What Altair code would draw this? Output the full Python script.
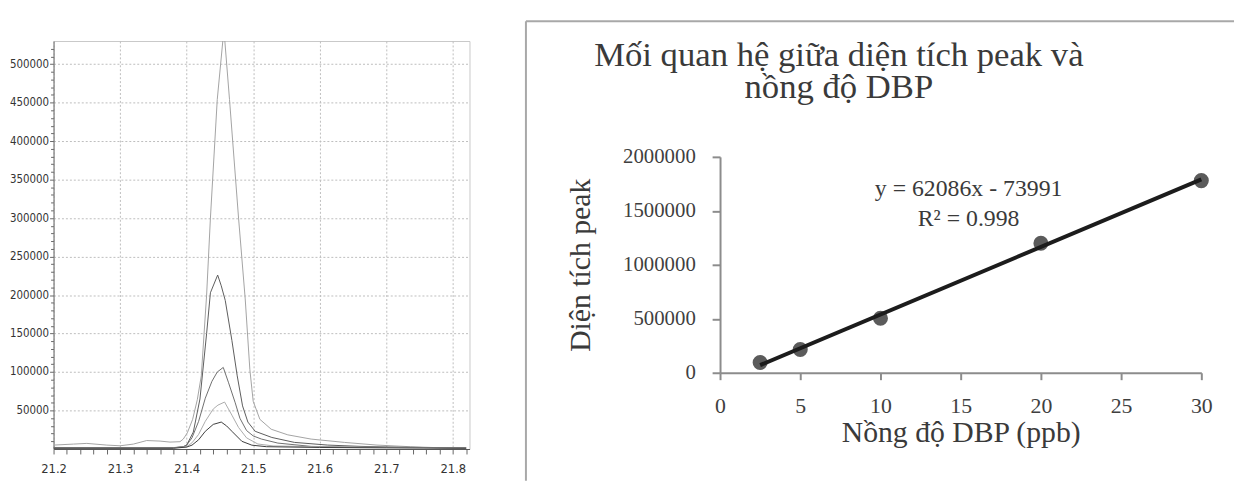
import altair as alt
import pandas as pd

# ---------------- Left panel: chromatogram (5 overlaid traces) ----------------
series_names = ["2.5 ppb", "5 ppb", "10 ppb", "20 ppb", "30 ppb"]
series_grays = ["#3d3d3d", "#ababab", "#6e6e6e", "#5c5c5c", "#a3a3a3"]

time_30 = [21.20, 21.23, 21.25, 21.28, 21.30, 21.32, 21.34, 21.36, 21.375, 21.39,
           21.395, 21.401, 21.409, 21.416, 21.422, 21.43, 21.4357, 21.446, 21.456,
           21.4644, 21.478, 21.488, 21.495, 21.50, 21.51, 21.527, 21.552, 21.587,
           21.637, 21.686, 21.736, 21.785, 21.82]
resp_30 = [5100, 6400, 7300, 5100, 4200, 6400, 11000, 10300, 9000, 9500,
           13000, 21000, 38600, 64000, 95000, 200000, 300000, 454000, 545000,
           454000, 300000, 195000, 103000, 62000, 38600, 25700, 18400, 12900,
           8600, 5100, 3000, 1500, 1200]

time_20 = [21.20, 21.30, 21.38, 21.395, 21.40, 21.41, 21.42, 21.43, 21.4357, 21.4466,
           21.452, 21.458, 21.468, 21.476, 21.484, 21.492, 21.503, 21.528, 21.562,
           21.612, 21.662, 21.72, 21.82]
resp_20 = [2000, 1800, 1800, 3000, 5000, 22000, 65000, 150000, 203000, 226000,
           212000, 193000, 141000, 95000, 56000, 35000, 23000, 15000, 8600,
           5100, 3400, 2200, 1500]

time_10 = [21.20, 21.30, 21.38, 21.395, 21.40, 21.408, 21.418, 21.428, 21.438, 21.446,
           21.455, 21.463, 21.473, 21.48, 21.49, 21.50, 21.5125, 21.537, 21.587,
           21.65, 21.75, 21.82]
resp_10 = [1500, 1500, 1500, 3000, 5000, 14500, 36000, 66000, 88000, 100000,
           106000, 86000, 60000, 40000, 24000, 17000, 12900, 7700, 3400,
           2500, 2000, 1500]

time_5 = [21.20, 21.38, 21.40, 21.408, 21.418, 21.428, 21.44, 21.447, 21.457, 21.468,
          21.478, 21.49, 21.507, 21.53, 21.60, 21.70, 21.82]
resp_5 = [1200, 1200, 3000, 8000, 19000, 36000, 52000, 57000, 61000, 44000,
          28000, 14500, 6500, 4000, 3000, 2000, 1200]

time_2_5 = [21.20, 21.38, 21.40, 21.408, 21.418, 21.428, 21.44, 21.452, 21.46, 21.468,
            21.483, 21.498, 21.52, 21.60, 21.70, 21.82]
resp_2_5 = [1000, 1000, 2500, 5000, 12000, 23000, 32000, 35000, 30000, 23000,
            10000, 5000, 3000, 2000, 1500, 1000]

x_tick_values = [round(21.2 + 0.02 * i, 2) for i in range(32)]
y_tick_values = [10000 * i for i in range(1, 53)]

# ---------------- Right panel: calibration curve ----------------
conc_ppb = [2.5, 5, 10, 20, 30]
peak_area = [95000, 215000, 505000, 1200000, 1780000]
x_ticks_right = [0, 5, 10, 15, 20, 25, 30]
y_ticks_right = [0, 500000, 1000000, 1500000, 2000000]
title_lines = ["Mối quan hệ giữa diện tích peak và", "nồng độ DBP"]
equation_lines = ["y = 62086x - 73991", "R² = 0.998"]

rows = []
for name, ts, vs in [("30 ppb", time_30, resp_30), ("20 ppb", time_20, resp_20),
                     ("10 ppb", time_10, resp_10), ("5 ppb", time_5, resp_5),
                     ("2.5 ppb", time_2_5, resp_2_5)]:
    for t, v in zip(ts, vs):
        rows.append({"series": name, "time": t, "response": v})
chrom = pd.DataFrame(rows)
calib = pd.DataFrame({"conc": conc_ppb, "area": peak_area})
one_row = pd.DataFrame({"k": [0]})

NARROW = "Liberation Sans Narrow, Arial Narrow, DejaVu Sans Condensed, sans-serif"
SERIF = "Liberation Serif, Times New Roman, serif"

x_major_test = "abs(datum.value*10 - round(datum.value*10)) < 0.001"
y_major_test = "datum.value % 50000 === 0"

left_lines = alt.Chart(chrom).mark_line(strokeWidth=1, clip=True).encode(
    x=alt.X("time:Q",
            scale=alt.Scale(domain=[21.2, 21.825], nice=False, zero=False),
            axis=alt.Axis(title=None, values=x_tick_values,
                          labelExpr=f"{x_major_test} ? format(datum.value, '.1f') : ''",
                          labelFont=NARROW, labelFontSize=13, labelColor="#333333",
                          labelPadding=9, labelOverlap=False, labelFlush=False, labelBound=False,
                          tickSize=5, tickColor="#666666", tickWidth=1,
                          domainColor="#555555", domainWidth=1,
                          grid=True, gridColor="#bdbdbd", gridDash=[2, 2], gridWidth=1,
                          gridOpacity={"condition": {"test": x_major_test, "value": 1}, "value": 0})),
    y=alt.Y("response:Q",
            scale=alt.Scale(domain=[0, 530000], nice=False),
            axis=alt.Axis(title=None, values=y_tick_values,
                          labelExpr=f"{y_major_test} ? format(datum.value, 'd') : ''",
                          labelFont=NARROW, labelFontSize=11.5, labelColor="#333333",
                          labelPadding=1, labelOverlap=False, labelFlush=False, labelBound=False,
                          tickSize={"condition": {"test": y_major_test, "value": 4}, "value": 3},
                          tickColor="#666666", tickWidth=1,
                          domainColor="#777777", domainWidth=1,
                          grid=True, gridColor="#bdbdbd", gridDash=[2, 2], gridWidth=1,
                          gridOpacity={"condition": {"test": y_major_test, "value": 1}, "value": 0})),
    color=alt.Color("series:N", scale=alt.Scale(domain=series_names, range=series_grays), legend=None),
)

left_anchor = alt.Chart(one_row).mark_rule(strokeOpacity=0, strokeWidth=1).encode(
    x=alt.value(-45), x2=alt.value(0), y=alt.value(-30)
)

left = alt.layer(left_lines, left_anchor).properties(
    width=420, height=412,
    view=alt.ViewBackground(stroke="#c8c8c8", strokeWidth=1),
)

# right panel: its plot group starts level with the left plot top; the y range
# places the calibration axis in the lower part of it.
R_H = 335
R_TOP = 117
xr = alt.X("conc:Q", scale=alt.Scale(domain=[0, 30], nice=False),
           axis=alt.Axis(values=x_ticks_right, format="d",
                         labelFont=SERIF, labelFontSize=22, labelColor="#3f3f3f",
                         labelPadding=16, labelFlush=False,
                         tickSize=7, tickWidth=2, tickColor="#8c8c8c",
                         domainColor="#8c8c8c", domainWidth=2, grid=False,
                         title="Nồng độ DBP (ppb)", titleFont=SERIF, titleFontSize=30,
                         titleFontWeight="normal", titleColor="#3a3a3a",
                         titleX=243, titleY=69, titleBaseline="alphabetic", titleAlign="center"))
yr = alt.Y("area:Q", scale=alt.Scale(domain=[0, 2000000], nice=False, range=[R_H, R_TOP]),
           axis=alt.Axis(values=y_ticks_right, format="d",
                         labelFont=SERIF, labelFontSize=21, labelColor="#3f3f3f",
                         labelPadding=17, labelFlush=False,
                         tickSize=8, tickWidth=2, tickColor="#8c8c8c",
                         domainColor="#8c8c8c", domainWidth=2, grid=False,
                         title="Diện tích peak", titleFont=SERIF, titleFontSize=30,
                         titleFontWeight="normal", titleColor="#3a3a3a",
                         titleX=-132, titleY=(R_H + R_TOP) / 2, titleAngle=270,
                         titleBaseline="alphabetic", titleAlign="center"))

pts = alt.Chart(calib).mark_circle(size=230, color="#5b5b5b", opacity=1).encode(x=xr, y=yr)
fit = alt.Chart(calib).transform_regression("conc", "area").mark_line(
    color="#1c1c1c", strokeWidth=4
).encode(x="conc:Q", y="area:Q")

def label(text, x, y, size, line_height=None):
    kw = {}
    if line_height is not None:
        kw["lineHeight"] = line_height
    return alt.Chart(one_row).mark_text(
        text=text, font=SERIF, fontSize=size, color="#3a3a3a",
        align="center", baseline="alphabetic", **kw
    ).encode(x=alt.value(x), y=alt.value(y))

title_block = label(title_lines, 120, 25, 35, line_height=33)
eq1 = label(equation_lines[0], 251, 157, 24)
eq2 = label(equation_lines[1], 251, 187, 24)

frame_top = alt.Chart(one_row).mark_rule(color="#a8a8a8", strokeWidth=2).encode(
    x=alt.value(-196), x2=alt.value(519), y=alt.value(-20))
frame_left = alt.Chart(one_row).mark_rule(color="#a8a8a8", strokeWidth=2).encode(
    x=alt.value(-196), y=alt.value(-20), y2=alt.value(444))
right_anchor = alt.Chart(one_row).mark_rule(strokeOpacity=0, strokeWidth=1).encode(
    x=alt.value(-199), y=alt.value(0), y2=alt.value(5))

right = alt.layer(pts, fit, frame_top, frame_left, right_anchor,
                  title_block, eq1, eq2).properties(width=486, height=R_H)

chart = alt.hconcat(left, right, spacing=53).properties(
    padding=0, background="white"
).configure_view(stroke=None)

chart.save("out.html", embed_options={"renderer": "svg", "actions": False})
